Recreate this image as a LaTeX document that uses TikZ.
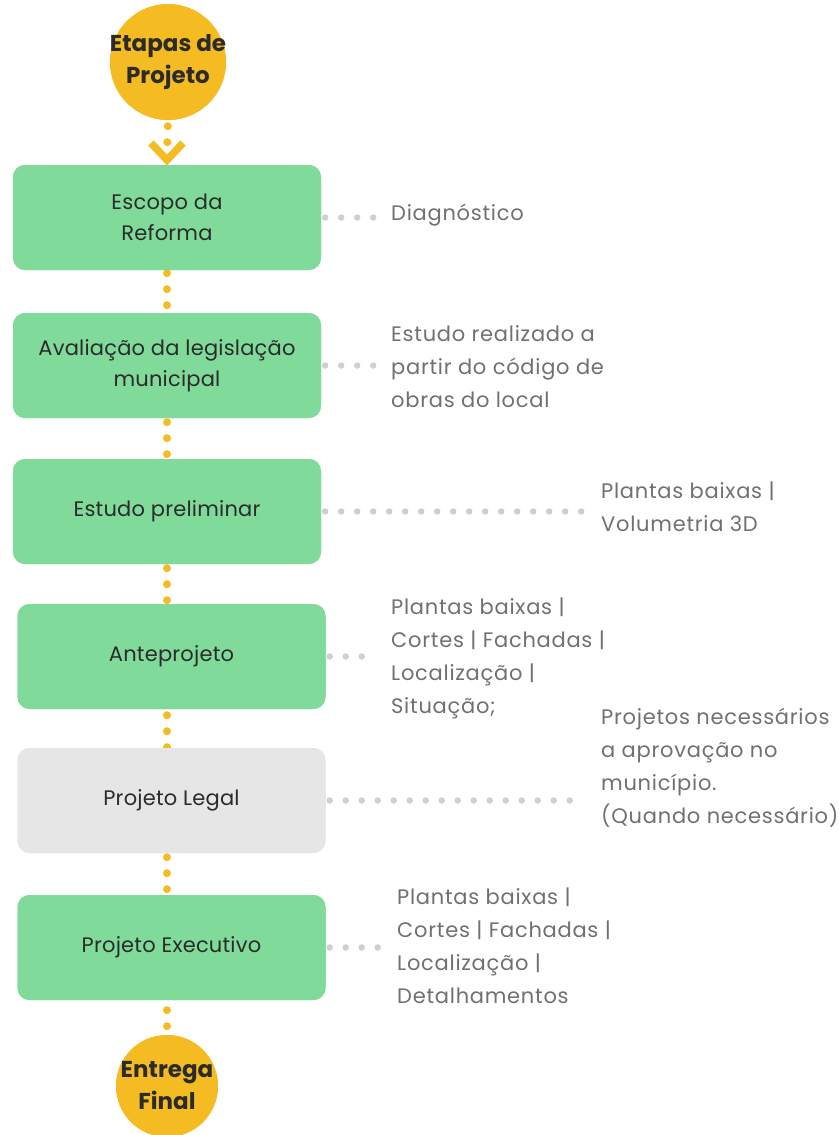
\documentclass[tikz,border=0pt]{standalone}
\usepackage{fontspec}
\setmainfont{Poppins}
\newfontfamily\notefont{Poppins}[LetterSpace=3.5]
\newfontfamily\boxfont{Poppins}[LetterSpace=1]
\definecolor{boxgreen}{HTML}{80DA99}
\definecolor{boxgray}{HTML}{E6E6E6}
\definecolor{sun}{HTML}{F4BB22}
\definecolor{textdark}{HTML}{2B2B2B}
\definecolor{textgray}{HTML}{707070}
\definecolor{dotgray}{HTML}{CFCFCF}
\begin{document}
\begin{tikzpicture}[x=1pt,y=-1pt,
  stepbox/.style={rounded corners=12pt, minimum width=308pt, minimum height=105pt,
    fill=boxgreen, text=textdark, align=center, inner sep=0pt,
    font=\boxfont\fontsize{21}{31}\selectfont},
  graybox/.style={stepbox, fill=boxgray},
  endcircle/.style={circle, fill=sun, inner sep=0pt},
  circletext/.style={inner sep=0pt, align=center, text=textdark,
    font=\fontsize{23}{32}\selectfont\bfseries},
  note/.style={anchor=west, inner sep=0pt, align=left, text=textgray,
    font=\notefont\fontsize{21}{33}\selectfont},
  flowdots/.style={draw=sun, line width=8pt, line cap=round, dash pattern=on 0pt off 16pt,
    shorten <=4pt},
  sidedots/.style={draw=dotgray, line width=6.5pt, line cap=round, dash pattern=on 0pt off 16pt,
    shorten <=4pt, shorten >=16pt},
  chev/.style={draw=sun, line width=7.5pt, line join=miter}
]
\useasboundingbox (0,0) rectangle (838,1135);

% node placeholders (positions)
\node[endcircle, minimum size=116pt] (c1) at (168,62) {};
\node[endcircle, minimum size=102pt] (c2) at (167,1086) {};
\coordinate (axis) at (167,0);

\node[stepbox] (b1) at (167,217.5) {};
\node[stepbox] (b2) at (167,365.5) {};
\node[stepbox] (b3) at (167,511.5) {};
\node[stepbox] (b4) at (171.5,656.5) {};
\node[graybox] (b5) at (171.5,800.5) {};
\node[stepbox] (b6) at (171.5,947.5) {};

% side texts
\node[note] (t1) at (391,215) {Diagnóstico};
\node[note] (t2) at (391,367) {Estudo realizado a\\partir do código de\\obras do local};
\node[note] (t3) at (601,506.5) {Plantas baixas |\\Volumetria 3D};
\node[note] (t4) at (391,658.5) {Plantas baixas |\\Cortes | Fachadas |\\Localização |\\Situação;};
\node[note] (t5) at (601,767.5) {Projetos necessários\\a aprovação no\\município.\\(Quando necessário)};
\node[note] (t6) at (397,946) {Plantas baixas |\\Cortes | Fachadas |\\Localização |\\Detalhamentos};

% flow connectors (yellow dots)
\coordinate (chevtop) at (167,152);
\path[flowdots, shorten <=6pt] (c1.south) -- (chevtop);
\draw[chev] (151,143) -- (167,160) -- (183,143);
\path[flowdots, shorten <=3pt] (b1.south -| axis) -- (b2.north -| axis);
\path[flowdots] (b2.south -| axis) -- (b3.north -| axis);
\path[flowdots] (b3.south -| axis) -- (b4.north -| axis);
\path[flowdots, shorten <=6pt] (b4.south -| axis) -- (b5.north -| axis);
\path[flowdots] (b5.south -| axis) -- (b6.north -| axis);
\path[flowdots, shorten <=10pt] (b6.south -| axis) -- (c2.north);

% side connectors (gray dots)
\path[sidedots] (b1.east) -- (b1.east -| t1.west);
\path[sidedots] (b2.east) -- (b2.east -| t2.west);
\path[sidedots] (b3.east) -- (b3.east -| t3.west);
\path[sidedots] (b4.east) -- (b4.east -| t4.west);
\path[sidedots] (b5.east) -- (b5.east -| t5.west);
\path[sidedots] (b6.east) -- (b6.east -| t6.west);

% redraw shapes on top
\node[endcircle, minimum size=116pt] at (c1) {};
\node[circletext] (c1t) at (c1) {Etapas de\\Projeto};
\node[endcircle, minimum size=102pt] at (c2) {};
\node[circletext] (c2t) at (c2) {Entrega\\Final};
\node[stepbox] at (b1) {Escopo da\\Reforma};
\node[stepbox] at (b2) {Avaliação da legislação\\municipal};
\node[stepbox] at (b3) {Estudo preliminar};
\node[stepbox] at (b4) {Anteprojeto};
\node[graybox] at (b5) {Projeto Legal};
\node[stepbox] at (b6) {Projeto Executivo};
\end{tikzpicture}
\end{document}
